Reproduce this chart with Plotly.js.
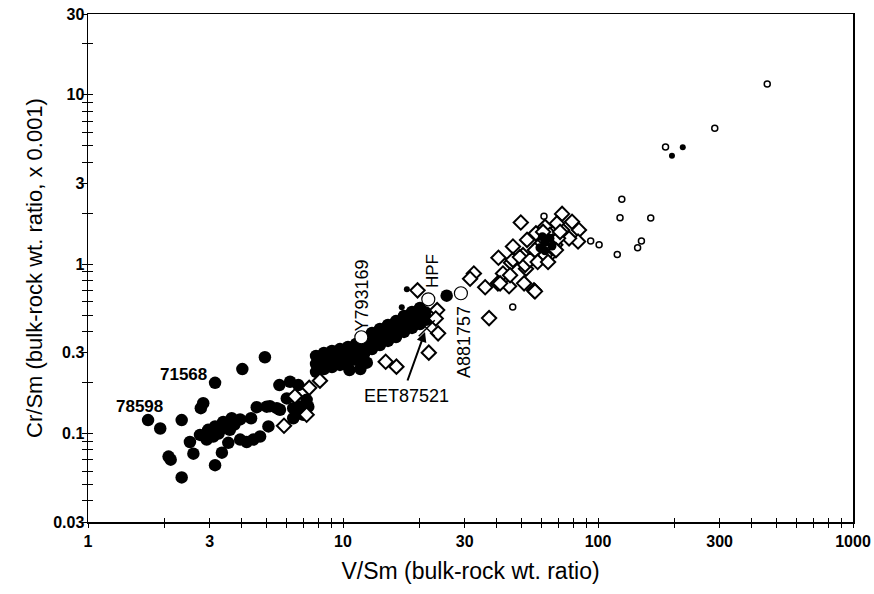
<!DOCTYPE html>
<html>
<head>
<meta charset="utf-8">
<script src="https://cdn.plot.ly/plotly-3.0.1.min.js"></script>
<style>html,body{margin:0;padding:0;background:#fff;}#chart{width:874px;height:594px;}</style>
</head>
<body>
<div id="chart"></div>
<script>
// ---- Data (V/Sm, Cr/Sm x0.001) ----
// Large filled circles
var filledX = [1.72,1.92,2.07,2.11,2.33,2.33,2.51,2.59,2.75,2.77,2.83,2.92,2.96,3.10,3.15,3.15,3.15,3.29,3.35,3.39,3.55,3.66,3.95,3.95,4.03,4.19,4.36,4.45,4.59,4.73,4.94,5.02,5.10,5.17,5.50,5.63,5.66,6.20,6.38,6.38,6.68,6.78,6.99,7.31,6.02,6.48,7.20,6.58,3.34,3.60,3.75,3.25,
  7.84,7.84,7.84,8.42,8.42,8.42,9.05,9.05,9.05,9.73,9.73,9.73,10.46,10.46,10.46,11.25,11.25,11.25,12.09,12.09,12.09,12.99,12.99,12.99,13.96,13.96,13.96,15.01,15.01,15.01,16.14,16.14,16.14,17.35,17.35,17.35,18.65,18.65,18.65,20.04,20.04,20.04,
  10.6,11.7,12.4,21.0,21.3,25.5];
var filledY = [0.120,0.107,0.073,0.070,0.055,0.120,0.089,0.076,0.098,0.141,0.151,0.092,0.105,0.096,0.110,0.199,0.065,0.105,0.077,0.117,0.088,0.123,0.121,0.092,0.240,0.089,0.123,0.092,0.143,0.096,0.282,0.144,0.110,0.145,0.141,0.193,0.138,0.202,0.141,0.123,0.193,0.144,0.129,0.144,0.161,0.165,0.158,0.132,0.107,0.105,0.113,0.100,
  0.231,0.257,0.287,0.240,0.268,0.299,0.247,0.275,0.307,0.254,0.283,0.315,0.261,0.291,0.324,0.272,0.303,0.338,0.295,0.329,0.366,0.315,0.352,0.392,0.333,0.371,0.414,0.352,0.392,0.437,0.371,0.414,0.461,0.398,0.443,0.494,0.420,0.468,0.522,0.443,0.494,0.551,
  0.237,0.240,0.262,0.520,0.470,0.651];

// Open diamonds
var diamondX = [5.87,6.48,7.37,8.12,7.20,14.7,16.2,19.6,23.4,23.1,23.6,21.7,
  32.6,31.5,36.1,37.4,40.5,42.4,40.7,44.8,45.6,46.4,49.8,50.8,51.3,52.7,52.2,56.1,57.1,62.0,72.3,79.1,84.2,83.5,77.0,72.3,69.0,46.4,49.4,51.8,45.2,41.3,56.6,64.8,
  59.2,62.0,64.8,63.7,68.0,59.2,62.0,66.3,69.7,56.6,54.1,71.0,68.4,60.9,58.0,63.7];
var diamondY = [0.111,0.166,0.186,0.205,0.129,0.265,0.248,0.70,0.535,0.477,0.390,0.300,
  0.88,0.82,0.73,0.48,0.77,0.88,1.09,0.74,1.02,1.27,1.76,1.13,0.77,1.39,0.94,0.70,1.52,1.66,1.98,1.78,1.59,1.36,1.42,1.59,1.74,1.06,1.10,0.99,0.86,0.77,0.69,1.14,
  1.30,1.39,1.49,1.21,1.30,1.13,1.13,1.36,1.42,1.21,1.06,1.55,1.21,1.55,1.03,1.03];

// Dark core of the diamond cluster
var coreX = [59.2,62.0,64.8,62.0,66.0,60.5];
var coreY = [1.25,1.35,1.42,1.20,1.28,1.45];

// Small open circles
var smallOpenX = [461,287,184,124,122,161,148,143,119,93.6,101,61.4,46.3];
var smallOpenY = [11.6,6.34,4.92,2.42,1.88,1.87,1.37,1.25,1.14,1.37,1.30,1.92,0.558];

// Small filled circles
var smallFilledX = [17.8,17.0,195,215];
var smallFilledY = [0.71,0.556,4.37,4.90];

// Large open circles (Y793169, HPF, A881757)
var bigOpenX = [11.8,21.6,29.0];
var bigOpenY = [0.370,0.620,0.673];

// Cross (EET87521)
var crossX = [21.3];
var crossY = [0.418];

// Axis ticks
var majorVals = [1,3,10,30,100,300,1000];
var majorText = ['1','3','10','30','100','300','1000'];
var xMinor = [2,4,5,6,7,8,9,20,40,50,60,70,80,90,200,400,500,600,700,800,900];
var yMajorVals = [0.03,0.1,0.3,1,3,10,30];
var yMajorText = ['0.03','0.1','0.3','1','3','10','30'];
var yMinor = [0.04,0.05,0.06,0.07,0.08,0.09,0.2,0.4,0.5,0.6,0.7,0.8,0.9,2,4,5,6,7,8,9,20];

var F = 'Liberation Sans, Arial, Helvetica, sans-serif';

var traces = [
  {x: filledX, y: filledY, type:'scatter', mode:'markers',
   marker:{symbol:'circle', size:12.5, color:'#000'}, hoverinfo:'none'},
  {x: diamondX, y: diamondY, type:'scatter', mode:'markers',
   marker:{symbol:'diamond', size:11, color:'#fff', line:{color:'#000', width:2}}, hoverinfo:'none'},
  {x: coreX, y: coreY, type:'scatter', mode:'markers',
   marker:{symbol:'circle', size:9, color:'#000'}, hoverinfo:'none'},
  {x: smallFilledX, y: smallFilledY, type:'scatter', mode:'markers',
   marker:{symbol:'circle', size:6, color:'#000'}, hoverinfo:'none'},
  {x: bigOpenX, y: bigOpenY, type:'scatter', mode:'markers',
   marker:{symbol:'circle', size:13, color:'#fff', line:{color:'#000', width:1.2}}, hoverinfo:'none'},
  {x: crossX, y: crossY, type:'scatter', mode:'markers',
   marker:{symbol:'x-thin-open', size:16, color:'#000', line:{color:'#000', width:1.5}}, hoverinfo:'none'},
  {x: smallOpenX, y: smallOpenY, type:'scatter', mode:'markers', xaxis:'x2', yaxis:'y2',
   marker:{symbol:'circle-open', size:6, color:'#000', line:{color:'#000', width:1.5}}, hoverinfo:'none'}
];

var tickFont = {family:F, size:16, color:'#000', weight:'bold'};
var xr = [0, 3], yr = [Math.log10(0.03), Math.log10(30)];

function ann(text, px, py, size, bold, angle) {
  return {text:text, xref:'paper', yref:'paper', x:px, y:py, showarrow:false,
    xanchor:'center', yanchor:'middle', textangle:angle||0,
    font:{family:F, size:size, color:'#000', weight: bold ? 'bold' : 'normal'}};
}

var layout = {
  width:874, height:594,
  margin:{l:88, r:21, t:14, b:72},
  paper_bgcolor:'#fff', plot_bgcolor:'#fff',
  showlegend:false,
  xaxis:{type:'log', range:xr, tickmode:'array', tickvals:majorVals, ticktext:majorText,
    ticks:'outside', ticklen:4, tickwidth:1, tickcolor:'#000',
    minor:{tickmode:'array', tickvals:xMinor, ticks:'outside', ticklen:4, tickwidth:1, tickcolor:'#000'},
    showgrid:false, zeroline:false, showline:true, linecolor:'#000', linewidth:1.5, mirror:true,
    tickfont:tickFont,
    title:{text:'V/Sm (bulk-rock wt. ratio)', font:{family:F, size:23, color:'#000'}, standoff:14}},
  yaxis:{type:'log', range:yr, tickmode:'array', tickvals:yMajorVals, ticktext:yMajorText,
    ticks:'outside', ticklen:5, tickwidth:1, tickcolor:'#000', ticklabelstandoff:-6,
    minor:{tickmode:'array', tickvals:yMinor, ticks:'outside', ticklen:5, tickwidth:1, tickcolor:'#000'},
    showgrid:false, zeroline:false, showline:true, linecolor:'#000', linewidth:1.5, mirror:true,
    tickfont:tickFont,
    title:{text:'Cr/Sm (bulk-rock wt. ratio, x 0.001)', font:{family:F, size:22, color:'#000'}, standoff:4}},
  xaxis2:{type:'log', range:xr, overlaying:'x', anchor:'y2', side:'bottom',
    tickmode:'array', tickvals:majorVals, showticklabels:false,
    ticks:'inside', ticklen:4, tickwidth:1, tickcolor:'#000',
    minor:{tickmode:'array', tickvals:xMinor, ticks:'inside', ticklen:4, tickwidth:1, tickcolor:'#000'},
    showgrid:false, zeroline:false, showline:false},
  yaxis2:{type:'log', range:yr, overlaying:'y', anchor:'x2', side:'left',
    tickmode:'array', tickvals:[0.1,1,10], showticklabels:false,
    ticks:'inside', ticklen:5, tickwidth:1, tickcolor:'#000',
    minor:{tickmode:'array', tickvals:yMinor, ticks:'inside', ticklen:5, tickwidth:1, tickcolor:'#000'},
    showgrid:false, zeroline:false, showline:false},
  annotations:[
    ann('78598', 0.0667, 0.2264, 17, true, 0),
    ann('71568', 0.1248, 0.2913, 17, true, 0),
    ann('Y793169', 0.3575, 0.4469, 18, false, -90),
    ann('HPF', 0.451, 0.4941, 17, false, -90),
    ann('A881757', 0.4908, 0.3553, 18, false, -90),
    ann('EET87521', 0.4163, 0.248, 18, false, 0),
    {text:'', xref:'paper', yref:'paper', x:0.4405, y:0.374, ax:-18, ay:50,
     showarrow:true, arrowhead:2, arrowsize:1, arrowwidth:2, arrowcolor:'#000'}
  ]
};

Plotly.newPlot('chart', traces, layout, {staticPlot:true, displayModeBar:false});
</script>
</body>
</html>
